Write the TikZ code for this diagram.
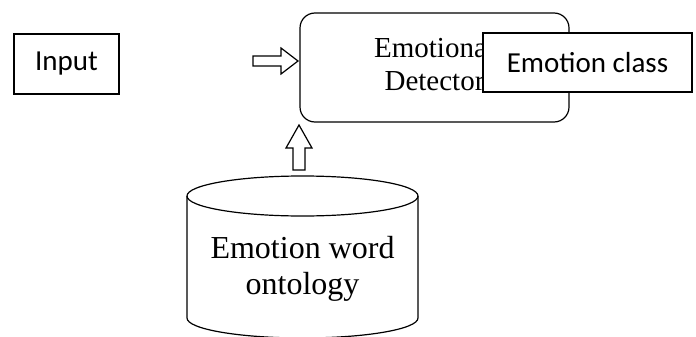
\documentclass[tikz,border=0pt]{standalone}
\usepackage{fontspec}
\setmainfont{Liberation Serif}
\newfontfamily\calib{Carlito}
\begin{document}
\begin{tikzpicture}[x=1pt,y=-1pt,
  line width=1.2pt,
  plainbox/.style={draw, rectangle, fill=white, inner sep=0pt,
    font=\calib\fontsize{29}{33}\selectfont},
  roundbox/.style={draw, rectangle, rounded corners=15pt, inner sep=0pt},
  serifsmall/.style={align=center, inner sep=0pt,
    font=\fontsize{29}{33}\selectfont},
  seriflarge/.style={align=center, inner sep=0pt,
    font=\fontsize{32}{36}\selectfont},
  blockarrow/.style={draw, fill=white, line join=miter}]
\useasboundingbox (0,0) rectangle (696,337);

% input block
\node[plainbox, minimum width=105pt, minimum height=60pt] (input) at (66.5,64) {Input};

% detector block with its label
\node[roundbox, minimum width=269pt, minimum height=109pt] (det) at (434.5,67.5) {};
\node[serifsmall] (dettext) at (434.5,64) {Emotional\\Detector};

% output block laid over the detector
\node[plainbox, minimum width=209pt, minimum height=59pt] (cls) at (587.5,62.5) {Emotion class};

% ontology store (cylinder)
\coordinate (ontotop) at (302.5,176);
\draw (302.5,196) ellipse [x radius=115.5, y radius=20];
\draw (187,196) -- (187,318) arc[start angle=180, end angle=0, x radius=115.5, y radius=20] -- (418,196);
\node[seriflarge] (onto) at (302.5,269) {Emotion word\\ontology};

% block arrow into the detector
\coordinate (intip) at (298,61);
\draw[blockarrow] (intip) -- ++(-17,-13) -- ++(0,8) -- ++(-28,0) -- ++(0,10)
  -- ++(28,0) -- ++(0,8) -- cycle;

% block arrow from the ontology up to the detector
\coordinate (uptip) at (299,125);
\draw[blockarrow] (uptip) -- ++(13,23) -- ++(-7,0) -- ++(0,22) -- ++(-12,0)
  -- ++(0,-22) -- ++(-7,0) -- cycle;
\end{tikzpicture}
\end{document}
